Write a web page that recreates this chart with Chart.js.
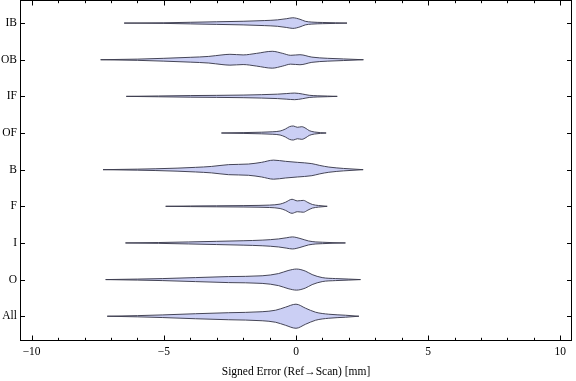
<!DOCTYPE html>
<html><head><meta charset="utf-8">
<script src="https://cdn.jsdelivr.net/npm/chart.js@4/dist/chart.umd.min.js"></script>
<style>html,body{margin:0;padding:0;background:#fff}#wrap{width:576px;height:381px}</style>
</head><body><div id="wrap"><canvas id="c" width="576" height="381"></canvas></div>
<script>
// Categories, bottom to top
const categories = ['All', 'O', 'I', 'F', 'B', 'OF', 'IF', 'OB', 'IB'];
const xTickLabels = [-10, -5, 0, 5, 10];

// Violin profiles: signed error (mm) and estimated density (relative units)
const allErr = [-7.14, -6, -5.06, -3.8, -2.55, -1.28, -0.77, -0.4, 0, 0.36, 0.74, 1.24, 1.87, 2.38];
const allDen = [0, 0.6, 1.3, 2.5, 3.5, 4.5, 6.0, 9.0, 12.0, 8.0, 4.0, 2.0, 1.0, 0];

const oErr = [-7.2, -6, -5.06, -3.8, -2.55, -1.28, -0.66, -0.3, 0.02, 0.35, 0.61, 0.99, 1.5, 2.0, 2.44];
const oDen = [0, 0.5, 1.0, 2.0, 3.0, 3.8, 6.0, 9.0, 10.5, 8.5, 5.0, 2.0, 1.0, 0.5, 0];

const iErr = [-6.45, -5.2, -4.06, -3, -2, -1.28, -0.66, -0.35, -0.14, 0.15, 0.47, 0.75, 1.0, 1.4, 1.87];
const iDen = [0, 0.4, 1.0, 1.6, 2.2, 2.8, 4.0, 5.2, 6.0, 4.5, 2.0, 1.0, 0.7, 0.3, 0];

const fErr = [-4.93, -4, -3, -2, -1.4, -1.0, -0.6, -0.4, -0.15, 0.05, 0.28, 0.45, 0.62, 0.85, 1.18];
const fDen = [0, 0.3, 0.5, 0.7, 0.9, 1.2, 2.2, 4.0, 7.0, 5.4, 5.9, 3.8, 1.8, 0.8, 0];

const bErr = [-7.3, -6, -5.3, -4.5, -3.8, -3.2, -2.55, -1.8, -1.3, -0.85, -0.4, 0.05, 0.6, 0.9, 1.24, 1.8, 2.54];
const bDen = [0, 0.5, 0.9, 1.5, 2.3, 3.2, 5.0, 5.6, 7.3, 9.5, 8.3, 7.3, 6.0, 4.2, 2.6, 1.2, 0];

const ofErr = [-2.82, -2, -1.3, -0.9, -0.6, -0.4, -0.25, -0.1, 0.05, 0.22, 0.38, 0.5, 0.7, 1.14];
const ofDen = [0, 0.4, 0.8, 1.2, 2.0, 4.0, 6.3, 7.0, 5.7, 6.3, 4.5, 2.4, 1.0, 0];

const ifErr = [-6.42, -5.2, -4, -3, -2, -1.3, -0.7, -0.35, -0.05, 0.25, 0.5, 0.8, 1.2, 1.56];
const ifDen = [0, 0.4, 0.8, 1.0, 1.3, 1.7, 2.2, 2.8, 3.3, 2.3, 1.1, 0.6, 0.3, 0];

const obErr = [-7.39, -6, -5, -4, -3.3, -2.8, -2.5, -2.0, -1.5, -0.9, -0.5, -0.2, 0.15, 0.6, 1.2, 1.8, 2.55];
const obDen = [0, 0.6, 1.4, 2.4, 3.3, 4.8, 5.4, 4.8, 6.3, 8.4, 6.3, 4.4, 5.0, 2.6, 1.4, 0.8, 0];

const ibErr = [-6.5, -5, -4, -3, -2, -1.2, -0.7, -0.35, -0.12, 0.15, 0.35, 0.6, 1.0, 1.5, 1.93];
const ibDen = [0, 0.3, 0.8, 1.3, 1.8, 2.5, 3.2, 4.4, 5.3, 3.8, 1.8, 1.0, 0.6, 0.3, 0];

const profiles = [
  [allErr, allDen], [oErr, oDen], [iErr, iDen], [fErr, fDen], [bErr, bDen],
  [ofErr, ofDen], [ifErr, ifDen], [obErr, obDen], [ibErr, ibDen]
];

const WIDTH = 1 / 36.5;           // density units -> category half-width
const FILL = 'rgb(203,207,244)';
const EDGE = 'rgba(60,60,78,0.95)';
const FONT = "'Liberation Serif', 'DejaVu Serif', serif";

const datasets = [];
profiles.forEach(([err, den], i) => {
  const up = err.map((e, k) => ({x: e, y: i + den[k] * WIDTH}));
  const lo = err.map((e, k) => ({x: e, y: i - den[k] * WIDTH}));
  const common = {borderColor: EDGE, borderWidth: 1, pointRadius: 0, cubicInterpolationMode: 'monotone'};
  datasets.push(Object.assign({label: categories[i] + ' upper', data: up, fill: false}, common));
  datasets.push(Object.assign({label: categories[i] + ' lower', data: lo, fill: '-1', backgroundColor: FILL}, common));
});

const frameTicks = {
  id: 'frameTicks',
  afterDatasetsDraw(chart) {
    const {ctx, chartArea: a, scales: {x, y}} = chart;
    ctx.save();
    ctx.strokeStyle = '#000';
    ctx.lineWidth = 1;
    const L = Math.round(a.left) + 0.5, R = Math.round(a.right) - 0.5;
    const T = Math.round(a.top) + 0.5, B = Math.round(a.bottom) - 0.5;
    ctx.strokeRect(L, T, R - L, B - T);
    ctx.beginPath();
    x.ticks.forEach(t => {
      const px = Math.round(x.getPixelForValue(t.value)) + 0.5;
      const len = xTickLabels.includes(t.value) ? 5 : 2.7;
      ctx.moveTo(px, B); ctx.lineTo(px, B - len);
      ctx.moveTo(px, T); ctx.lineTo(px, T + len);
    });
    y.ticks.forEach(t => {
      const py = Math.round(y.getPixelForValue(t.value)) + 0.5;
      ctx.moveTo(L, py); ctx.lineTo(L + 4.5, py);
      ctx.moveTo(R, py); ctx.lineTo(R - 4.5, py);
    });
    ctx.stroke();
    ctx.restore();
  }
};

new Chart(document.getElementById('c'), {
  type: 'line',
  data: {datasets},
  plugins: [frameTicks],
  options: {
    responsive: false,
    devicePixelRatio: 1,
    animation: false,
    layout: {padding: {left: 0, right: 4, top: 0, bottom: 0}},
    plugins: {legend: {display: false}, tooltip: {enabled: false}},
    scales: {
      x: {
        type: 'linear', min: -10.44, max: 10.44,
        afterBuildTicks: s => {
          const ticks = [];
          for (let v = Math.ceil(s.min); v <= Math.floor(s.max); v++) ticks.push({value: v});
          s.ticks = ticks;
        },
        ticks: {
          autoSkip: false, maxRotation: 0, padding: 4, color: '#000',
          font: {family: FONT, size: 11.5},
          callback: v => xTickLabels.includes(v) ? (v < 0 ? '\u2212' + Math.abs(v) : String(v)) : ''
        },
        grid: {display: false, drawTicks: false},
        border: {display: false},
        title: {display: true, text: 'Signed Error (Ref\u2192Scan) [mm]', color: '#000',
                font: {family: FONT, size: 11.5}, padding: {top: 0, bottom: 2}},
        afterFit: s => { s.height = 40; s.paddingLeft = 0; s.paddingRight = 0; }
      },
      y: {
        type: 'linear', min: -0.676, max: 8.63,
        afterBuildTicks: s => { s.ticks = categories.map((c, i) => ({value: i})); },
        ticks: {
          autoSkip: false, padding: 3, color: '#000',
          font: {family: FONT, size: 11.5},
          callback: v => categories[v] !== undefined ? categories[v] : ''
        },
        grid: {display: false, drawTicks: false},
        border: {display: false},
        afterFit: s => { s.width = 20; s.paddingTop = 0; s.paddingBottom = 0; }
      }
    }
  }
});
</script>
</body></html>
